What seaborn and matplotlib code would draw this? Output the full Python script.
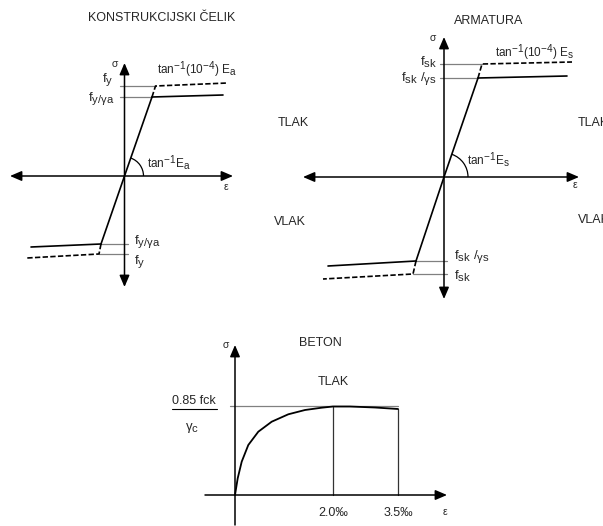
import matplotlib
matplotlib.use("Agg")
import matplotlib.pyplot as plt
import matplotlib._mathtext as _mt
import seaborn as sns
import pandas as pd
from matplotlib.patches import Arc

sns.set_style("white")
plt.rcParams["font.family"] = ["Liberation Sans", "DejaVu Sans"]
plt.rcParams["mathtext.fontset"] = "custom"
plt.rcParams["mathtext.rm"] = "Liberation Sans"
plt.rcParams["mathtext.it"] = "Liberation Sans"
plt.rcParams["mathtext.bf"] = "Liberation Sans:bold"
plt.rcParams["mathtext.default"] = "rm"
_mt.SHRINK_FACTOR = 0.85  # larger sub/superscripts, as in the sketch

W, H = 603, 526

# ---------------- data (sketch units, origin at the crossing of the axes) -------------
# Panel 1: KONSTRUKCIJSKI ČELIK
celik_origin = (124.5, 176)
celik_eps_elastic = [-23.5, 0, 27.5]
celik_sig_elastic = [-68, 0, 79]
celik_eps_design_top = [27.5, 98.5]
celik_sig_design_top = [79, 81]
celik_eps_design_bot = [-23.5, -93.5]
celik_sig_design_bot = [-68, -71]
celik_eps_char_top = [27.5, 31, 103]
celik_sig_char_top = [79, 90, 93]
celik_eps_char_bot = [-23.5, -25.5, -97.5]
celik_sig_char_bot = [-68, -78, -82]
celik_axis_eps = [-114.5, 108.5]
celik_axis_sig = [-111, 113]

# Panel 2: ARMATURA
arm_origin = (444, 177)
arm_eps_elastic = [-28, 0, 34]
arm_sig_elastic = [-84, 0, 99]
arm_eps_design_top = [34, 123]
arm_sig_design_top = [99, 101]
arm_eps_design_bot = [-28, -116]
arm_sig_design_bot = [-84, -89]
arm_eps_char_top = [34, 38, 128]
arm_sig_char_top = [99, 113, 115]
arm_eps_char_bot = [-28, -31, -121]
arm_sig_char_bot = [-84, -97, -102]
arm_axis_eps = [-141, 135]
arm_axis_sig = [-122, 140]

# Panel 3: BETON (strain in sketch units: 2.0 per mille -> 98, 3.5 per mille -> 163)
beton_origin = (235, 495)
beton_eps = [0, 2.7, 6.7, 13.3, 23.3, 36.7, 53.3, 70, 86.7, 98, 115, 140, 163]
beton_sig = [0, 16.7, 33.3, 50, 63.3, 73.3, 80.7, 85, 87.3, 88.5, 88.5, 87.5, 86]
beton_fcd = 89
beton_eps_marks = [98, 163]
beton_eps_labels = ["2.0‰", "3.5‰"]
beton_axis_eps = [-30, 212]
beton_axis_sig = [-30, 150]

fig = plt.figure(figsize=(W / 100, H / 100), dpi=100)


def make_ax(origin):
    ax = fig.add_axes([0, 0, 1, 1])
    ox, oy = origin
    ax.set_xlim(-ox, W - ox)
    ax.set_ylim(-(H - oy), oy)
    ax.axis("off")
    ax.patch.set_alpha(0)
    return ax


def line(ax, x, y, color="black", lw=1.1, ls="-"):
    df = pd.DataFrame({"x": x, "y": y})
    sns.lineplot(data=df, x="x", y="y", ax=ax, sort=False, estimator=None,
                 color=color, lw=lw, linestyle=ls)


def arrow(ax, start, end, both=False):
    style = "<|-|>" if both else "-|>"
    ax.annotate("", xy=end, xytext=start,
                arrowprops=dict(arrowstyle=style + ",head_length=0.7,head_width=0.3",
                                color="black", lw=1.1, shrinkA=0, shrinkB=0,
                                mutation_scale=10))


GRAY = "#808080"
DASH = (0, (3.2, 1.4))
FS = 9.5
TANFS = 8.5
TFS = 9


def steel_panel(origin, eps_el, sig_el, eps_dt, sig_dt, eps_db, sig_db,
                eps_ct, sig_ct, eps_cb, sig_cb, ax_eps, ax_sig, arc_r):
    ax = make_ax(origin)
    arrow(ax, (ax_eps[0], 0), (ax_eps[1], 0), both=True)
    arrow(ax, (0, ax_sig[0]), (0, ax_sig[1]), both=True)
    # reference lines
    line(ax, [-4.5, eps_ct[1]], [sig_ct[1], sig_ct[1]], color=GRAY, lw=0.9)
    line(ax, [-4.5, eps_ct[0]], [sig_ct[0], sig_ct[0]], color=GRAY, lw=0.9)
    line(ax, [eps_cb[0], 3], [sig_cb[0], sig_cb[0]], color=GRAY, lw=0.9)
    line(ax, [eps_cb[1], 3], [sig_cb[1], sig_cb[1]], color=GRAY, lw=0.9)
    # curves
    line(ax, eps_el, sig_el, lw=1.2)
    line(ax, eps_dt, sig_dt, lw=1.2)
    line(ax, eps_db, sig_db, lw=1.2)
    line(ax, eps_ct, sig_ct, lw=1.2, ls=DASH)
    line(ax, eps_cb, sig_cb, lw=1.2, ls=DASH)
    ax.add_patch(Arc((0, 0), 2 * arc_r, 2 * arc_r, theta1=0, theta2=71,
                     color="black", lw=0.9))
    return ax


# ---------------- Panel 1 ----------------
ax1 = steel_panel(celik_origin, celik_eps_elastic, celik_sig_elastic,
                  celik_eps_design_top, celik_sig_design_top,
                  celik_eps_design_bot, celik_sig_design_bot,
                  celik_eps_char_top, celik_sig_char_top,
                  celik_eps_char_bot, celik_sig_char_bot,
                  celik_axis_eps, celik_axis_sig, 19)
ax1.text(37.5, 158, "KONSTRUKCIJSKI ČELIK", ha="center", va="center", fontsize=TFS)
ax1.text(-9.5, 112, "σ", ha="center", va="center", fontsize=7.5)
ax1.text(101.5, -11, "ε", ha="center", va="center", fontsize=7.5)
ax1.text(-11.5, 96, r"f$_{y}$", ha="right", va="center", fontsize=FS)
ax1.text(-9.5, 77, r"f$_{y/γa}$", ha="right", va="center", fontsize=FS)
ax1.text(9.5, -66, r"f$_{y/γa}$", ha="left", va="center", fontsize=FS)
ax1.text(9.5, -86, r"f$_{y}$", ha="left", va="center", fontsize=FS)
ax1.text(32.5, 106, r"tan$^{-1}$(10$^{-4}$) E$_{a}$", ha="left", va="center", fontsize=TANFS)
ax1.text(22.5, 13, r"tan$^{-1}$E$_{a}$", ha="left", va="center", fontsize=TANFS)
ax1.text(153.5, 53, "TLAK", ha="left", va="center", fontsize=TFS)
ax1.text(149.5, -46, "VLAK", ha="left", va="center", fontsize=TFS)

# ---------------- Panel 2 ----------------
ax2 = steel_panel(arm_origin, arm_eps_elastic, arm_sig_elastic,
                  arm_eps_design_top, arm_sig_design_top,
                  arm_eps_design_bot, arm_sig_design_bot,
                  arm_eps_char_top, arm_sig_char_top,
                  arm_eps_char_bot, arm_sig_char_bot,
                  arm_axis_eps, arm_axis_sig, 24)
ax2.text(45, 156, "ARMATURA", ha="center", va="center", fontsize=TFS)
ax2.text(-11, 139, "σ", ha="center", va="center", fontsize=7.5)
ax2.text(131, -8, "ε", ha="center", va="center", fontsize=7.5)
ax2.text(-7, 115, r"f$_{sk}$", ha="right", va="center", fontsize=9.5)
ax2.text(-7, 98, r"f$_{sk}$ /$_{γs}$", ha="right", va="center", fontsize=9.5)
ax2.text(10, -80, r"f$_{sk}$ /$_{γs}$", ha="left", va="center", fontsize=9.5)
ax2.text(10, -99, r"f$_{sk}$", ha="left", va="center", fontsize=9.5)
ax2.text(51, 124, r"tan$^{-1}$(10$^{-4}$) E$_{s}$", ha="left", va="center", fontsize=TANFS)
ax2.text(23, 17, r"tan$^{-1}$E$_{s}$", ha="left", va="center", fontsize=TANFS)
ax2.text(134, 54, "TLAK", ha="left", va="center", fontsize=TFS)
ax2.text(134, -43, "VLAK", ha="left", va="center", fontsize=TFS)

# ---------------- Panel 3 ----------------
ax3 = make_ax(beton_origin)
arrow(ax3, (beton_axis_eps[0], 0), (beton_axis_eps[1], 0))
arrow(ax3, (0, beton_axis_sig[0]), (0, beton_axis_sig[1]))
line(ax3, [-5, beton_eps_marks[1]], [beton_fcd, beton_fcd], color=GRAY, lw=0.9)
for e, s in zip(beton_eps_marks, [beton_sig[beton_eps.index(e)] for e in beton_eps_marks]):
    line(ax3, [e, e], [0, s], color="#333333", lw=0.9)
line(ax3, beton_eps, beton_sig, lw=1.3)
ax3.text(85, 152, "BETON", ha="center", va="center", fontsize=TFS)
ax3.text(98, 113, "TLAK", ha="center", va="center", fontsize=TFS)
ax3.text(-9, 150, "σ", ha="center", va="center", fontsize=7.5)
ax3.text(210, -17, "ε", ha="center", va="center", fontsize=7.5)
ax3.text(-41, 94, "0.85 fck", ha="center", va="center", fontsize=TFS)
line(ax3, [-63, -18], [86, 86], color="black", lw=0.8)
ax3.text(-43, 67, r"γ$_{c}$", ha="center", va="center", fontsize=9.5)
for e, lab in zip(beton_eps_marks, beton_eps_labels):
    ax3.text(e, -18, lab, ha="center", va="center", fontsize=TFS)

fig.savefig("out.png", dpi=100)
